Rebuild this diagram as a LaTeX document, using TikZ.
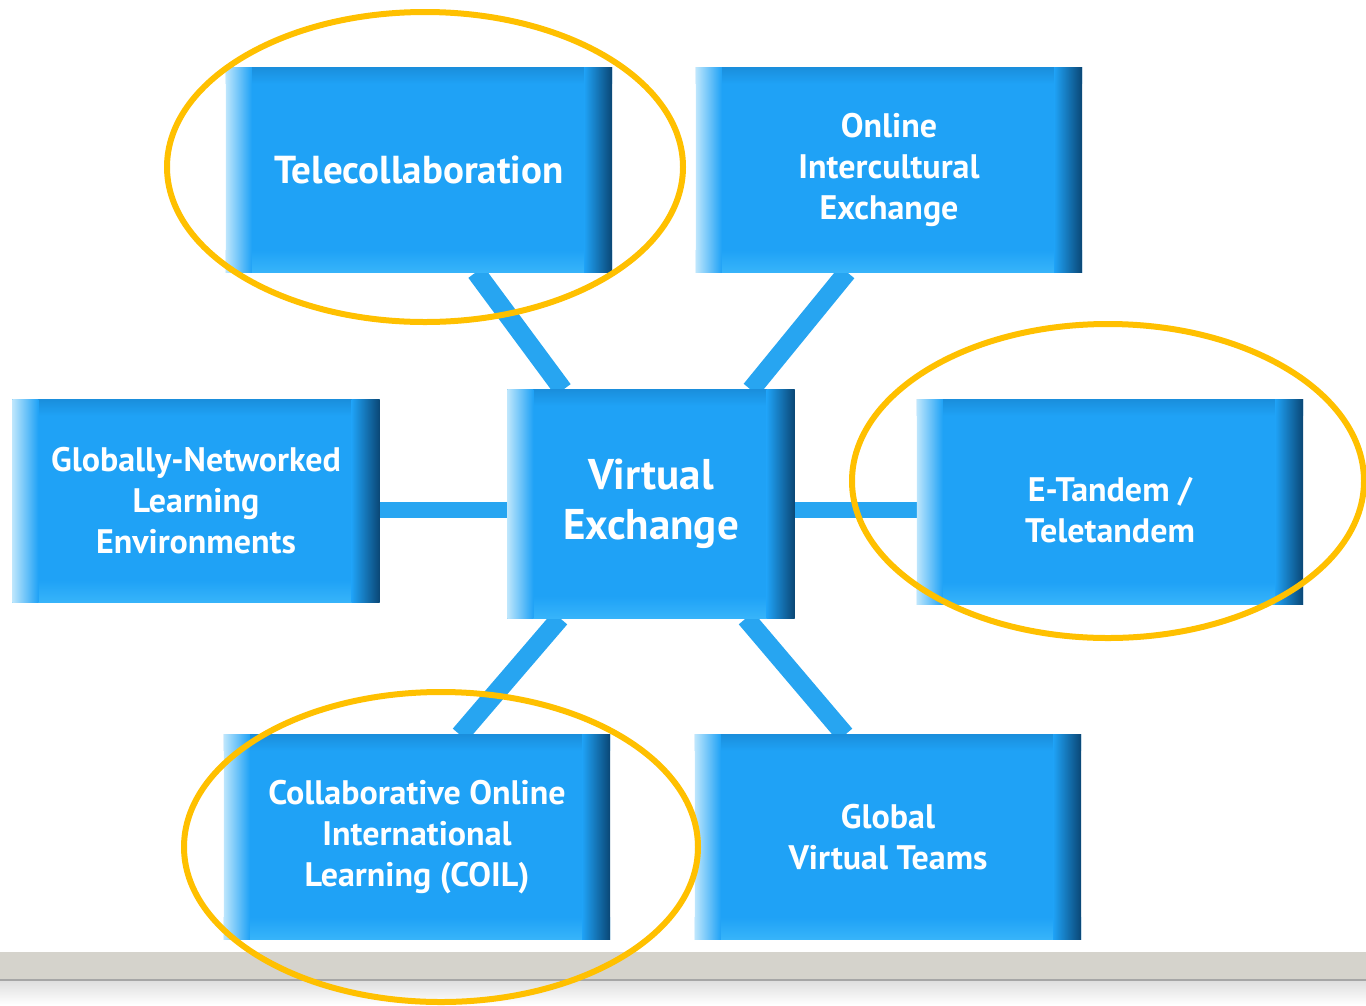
\documentclass[tikz,border=0pt]{standalone}
\usepackage{fontspec}
\setmainfont{PT Sans}
\usepackage{tikz}
\usetikzlibrary{calc,backgrounds}
\definecolor{vxblue}{HTML}{1FA2F6}
\definecolor{vxlight}{HTML}{BDE6FC}
\definecolor{vxdark}{HTML}{0A4674}
\definecolor{vxtop}{HTML}{1A8FDD}
\definecolor{vxfoot}{HTML}{37B4FA}
\definecolor{link}{HTML}{27A5F1}
\definecolor{ring}{HTML}{FFC000}
\definecolor{shelf}{HTML}{D5D3CC}

\tikzset{
  box/.style={fill=vxblue, text=white, align=center, inner sep=0pt,
    minimum width=386pt, minimum height=204pt, font=\bfseries\fontsize{34}{41}\selectfont},
  hub/.style={box, minimum width=287pt, minimum height=228pt, font=\bfseries\fontsize{43}{50}\selectfont},
  link/.style={draw=link, line width=19pt},
  halo/.style={draw=ring, line width=6pt},
}

% light left edge, dark right edge, soft top and foot
\newcommand{\bevel}[1]{%
  \shade[top color=vxtop, bottom color=vxblue] (#1.north west) rectangle ($(#1.north east)+(0,16)$);
  \shade[top color=vxblue, bottom color=vxfoot] ($(#1.south west)+(0,-22)$) rectangle (#1.south east);
  \shade[left color=vxlight, right color=vxblue] (#1.north west) rectangle ($(#1.south west)+(26,0)$);
  \shade[left color=vxblue, right color=vxdark] ($(#1.north east)+(-28,0)$) rectangle (#1.south east);
}

\begin{document}
\begin{tikzpicture}[x=1pt, y=-1pt]
  \useasboundingbox (0,0) rectangle (1366,1005);

  % shelf along the foot
  \fill[shelf] (0,952) rectangle (1366,980);
  \draw[gray!70, line width=1.5pt] (0,980) -- (1366,980);
  \shade[top color=gray!25, bottom color=white] (0,981) rectangle (1366,1005);

  \node[hub] (vx) at (651,504) {Virtual\\Exchange};
  \node[box, font=\bfseries\fontsize{39}{46}\selectfont] (tele) at (419,170) {Telecollaboration};
  \node[box] (oie) at (889,170) {Online\\Intercultural\\Exchange};
  \node[box, minimum width=367pt, minimum height=202pt] (gnle) at (196,501) {Globally-Networked\\Learning\\Environments};
  \node[box] (etan) at (1110,502) {\raisebox{-12pt}[\height][\depth]{\begin{tabular}{@{}c@{}}E-Tandem /\\Teletandem\end{tabular}}};
  \node[box] (coil) at (417,837) {Collaborative Online\\International\\Learning (COIL)};
  \node[box] (gvt) at (888,837) {Global\\Virtual Teams};

  \foreach \n in {vx,tele,oie,gnle,etan,coil,gvt}
    \bevel{\n};

  \begin{scope}[on background layer]
    \draw[link] ($(tele.south)+(57,0)$) -- ($(vx.north)+(-88,0)$);
    \draw[link] ($(oie.south)+(-42,0)$) -- ($(vx.north)+(100,0)$);
    \draw[link, line width=16pt] (gnle.east |- 0,510) -- (vx.west |- 0,510);
    \draw[link, line width=16pt] (vx.east |- 0,510) -- (etan.west |- 0,510);
    \draw[link] ($(vx.south)+(-91,0)$) -- ($(coil.north)+(43,0)$);
    \draw[link] ($(vx.south)+(95,0)$) -- ($(gvt.north)+(-43,0)$);
  \end{scope}

  % highlight rings
  \draw[halo] ($(tele)+(6,-3)$) ellipse [x radius=258, y radius=155];
  \draw[halo] ($(etan)+(-2,-21)$) ellipse [x radius=256, y radius=157];
  \draw[halo] ($(coil)+(24,10)$) ellipse [x radius=257, y radius=155];
\end{tikzpicture}
\end{document}
